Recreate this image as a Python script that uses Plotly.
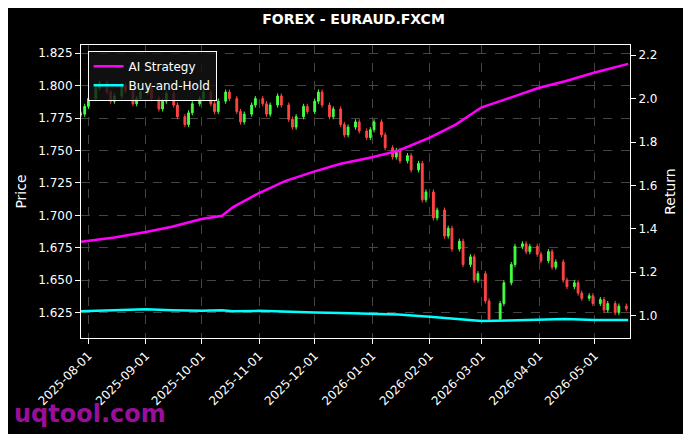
import numpy as np
import pandas as pd
import plotly.graph_objects as go

closes = [1.778, 1.784,
 1.790, 1.798, 1.802, 1.795, 1.788, 1.792, 1.800, 1.796, 1.786, 1.790, 1.795,
 1.798, 1.790, 1.782, 1.788, 1.794, 1.785, 1.776, 1.770, 1.779, 1.786, 1.790,
 1.795, 1.786, 1.780, 1.788, 1.795, 1.790, 1.780, 1.772, 1.778, 1.785, 1.790,
 1.786, 1.778, 1.785, 1.792, 1.785, 1.774, 1.768, 1.776, 1.784, 1.780,
 1.788, 1.795, 1.785, 1.776, 1.782, 1.770, 1.762, 1.768, 1.772, 1.765, 1.760,
 1.766, 1.772, 1.762, 1.752, 1.745, 1.750, 1.742, 1.746, 1.735, 1.740, 1.712,
 1.718, 1.698, 1.704, 1.684, 1.690, 1.674, 1.680, 1.662, 1.668, 1.650,
 1.655, 1.634, 1.620, None, 1.632, 1.648, 1.662, 1.676, 1.678, 1.672, 1.676,
 1.670, 1.665, 1.672, 1.660, 1.664, 1.650, 1.645, 1.648, 1.640, 1.636, 1.638,
 1.632, 1.635, 1.627, 1.632, 1.625, 1.630, 1.628]
candle_dates = pd.bdate_range("2025-07-28", periods=len(closes), freq="2B")

ret_dates = ["2025-07-28", "2025-08-15", "2025-09-01", "2025-09-15", "2025-10-01", "2025-10-12",
             "2025-10-18", "2025-11-01", "2025-11-15", "2025-12-01", "2025-12-15", "2026-01-01",
             "2026-01-15", "2026-02-01", "2026-02-15", "2026-03-01", "2026-03-15", "2026-04-01",
             "2026-04-15", "2026-05-01", "2026-05-19"]
ai_ret = [1.34, 1.36, 1.385, 1.41, 1.445, 1.46, 1.50, 1.565, 1.62, 1.665, 1.70, 1.73,
          1.76, 1.82, 1.88, 1.96, 2.00, 2.05, 2.08, 2.12, 2.16]
bh_ret = [1.02, 1.025, 1.03, 1.025, 1.022, 1.025, 1.02, 1.022, 1.02, 1.015, 1.012, 1.01,
          1.005, 0.995, 0.985, 0.975, 0.978, 0.982, 0.985, 0.98, 0.98]

opens, highs, lows = [], [], []
prev = closes[0]
for c in closes:
    if c is None:
        opens.append(None); highs.append(None); lows.append(None)
        continue
    o = prev
    opens.append(o)
    highs.append(max(o, c) + 0.002)
    lows.append(min(o, c) - 0.002)
    prev = c

fig = go.Figure()
fig.add_trace(go.Candlestick(x=candle_dates, open=opens, high=highs, low=lows, close=closes,
    increasing=dict(line=dict(color="#44ff44", width=1), fillcolor="#44ff44"),
    decreasing=dict(line=dict(color="#ff4444", width=1), fillcolor="#ff4444"),
    whiskerwidth=0, showlegend=False, yaxis="y"))
fig.add_trace(go.Scatter(x=ret_dates, y=ai_ret, mode="lines", name="AI Strategy",
    line=dict(color="#ff00ff", width=2.5), yaxis="y2"))
fig.add_trace(go.Scatter(x=ret_dates, y=bh_ret, mode="lines", name="Buy-and-Hold",
    line=dict(color="#00ffff", width=2.5), yaxis="y2"))

grid = dict(showgrid=True, gridcolor="#444", griddash="dash", gridwidth=0.6)
fig.update_layout(
    width=691, height=434, paper_bgcolor="black", plot_bgcolor="black",
    margin=dict(l=73, r=69, t=37, b=104, autoexpand=False),
    font=dict(family="DejaVu Sans", color="white", size=12),
    title=dict(text="<b>FOREX - EURAUD.FXCM</b>", x=0.5, y=0.985, yanchor="top", xanchor="center", font=dict(size=14)),
    xaxis=dict(type="date", range=["2025-07-28", "2026-05-20"], rangeslider=dict(visible=False),
               tickformat="%Y-%m-%d", dtick="M1", tick0="2025-08-01", tickangle=-45, automargin=False,
               showline=True, linecolor="white", mirror=True, ticks="outside", tickcolor="white", **grid),
    yaxis=dict(range=[1.6054, 1.8313], dtick=0.025, tickformat=".3f", automargin=False,
               title=dict(text="Price", standoff=8),
               showline=True, linecolor="white", mirror=True, ticks="outside", tickcolor="white", **grid),
    yaxis2=dict(range=[0.897, 2.247], dtick=0.2, tickformat=".1f", automargin=False,
                title=dict(text="Return", standoff=8), overlaying="y",
                side="right", showgrid=False, ticks="outside", tickcolor="white", zeroline=False),
    legend=dict(x=0.012, y=0.98, xanchor="left", yanchor="top", bgcolor="rgba(20,20,20,0.8)",
                bordercolor="white", borderwidth=1, font=dict(size=12)),
)
fig.add_annotation(text="<b>uqtool.com</b>", xref="paper", yref="paper", x=-0.125, y=-0.26,
                   xanchor="left", yanchor="middle", showarrow=False,
                   font=dict(size=24, color="#9a0f9a"))
fig.write_html("out.html")
